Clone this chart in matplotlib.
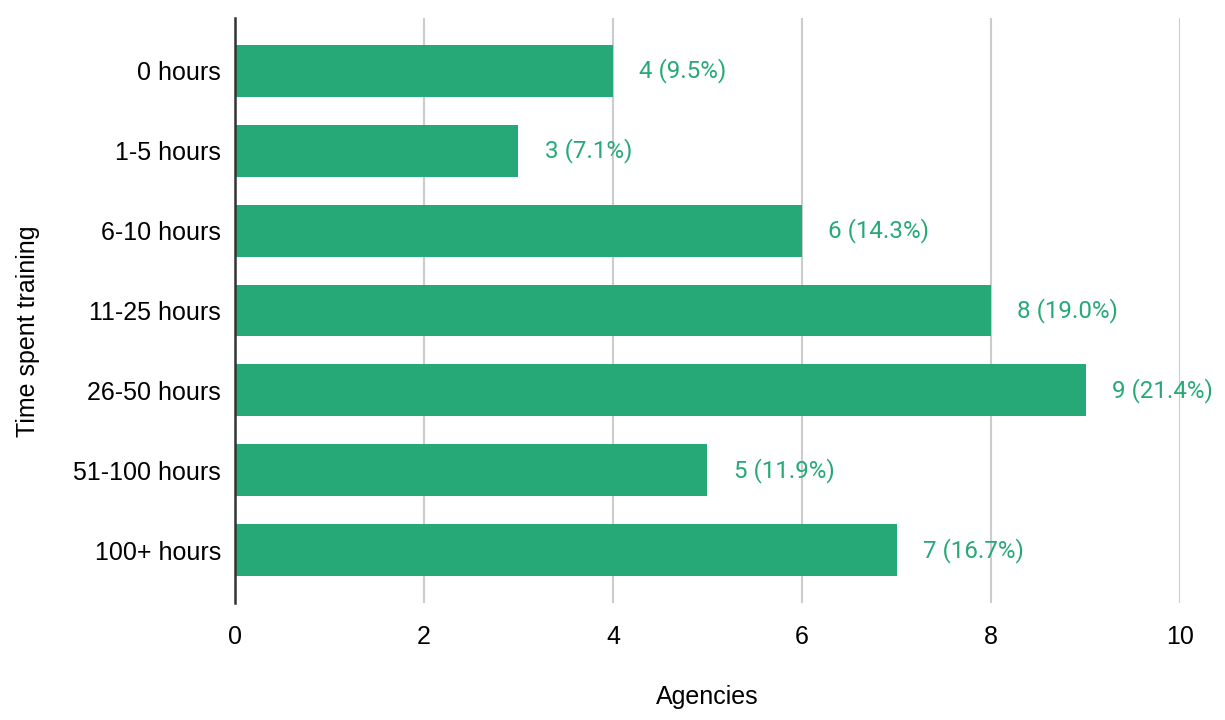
import matplotlib.pyplot as plt

categories = ["0 hours", "1-5 hours", "6-10 hours", "11-25 hours",
              "26-50 hours", "51-100 hours", "100+ hours"]
agencies = [4, 3, 6, 8, 9, 5, 7]
percents = [9.5, 7.1, 14.3, 19.0, 21.4, 11.9, 16.7]

green = "#26a977"

fig = plt.figure(figsize=(12.25, 7.2), dpi=100)
ax = fig.add_axes([0.1918, 0.1625, 0.7715, 0.8125])

y = list(range(len(categories)))
ax.barh(y, agencies, height=0.65, color=green, zorder=3)

for yi, v, p in zip(y, agencies, percents):
    ax.text(v + 0.28, yi, f"{v} ({p:.1f}%)", va="center", ha="left",
            color=green, fontsize=17.4, family="Roboto", zorder=4)

ax.set_xlim(0, 10)
ax.set_ylim(6.66, -0.66)
ax.set_yticks(y)
ax.set_yticklabels(categories)
ax.set_xticks([0, 2, 4, 6, 8, 10])

ax.grid(axis="x", color="#cccccc", linewidth=1.5, zorder=0)
for s in ["top", "right", "bottom"]:
    ax.spines[s].set_visible(False)
ax.spines["left"].set_color("#333333")
ax.spines["left"].set_linewidth(1.8)
ax.spines["left"].set_zorder(5)

ax.tick_params(length=0, labelsize=18)
ax.tick_params(axis="y", pad=10)
ax.tick_params(axis="x", pad=16)
for lab in ax.get_xticklabels() + ax.get_yticklabels():
    lab.set_family("Liberation Sans")

ax.set_xlabel("Agencies", fontsize=18, family="Liberation Sans")
ax.set_ylabel("Time spent training", fontsize=18, family="Liberation Sans")
ax.xaxis.set_label_coords(0.5, -0.14)
ax.yaxis.set_label_coords(-0.206, 0.465)

fig.savefig("out.png", dpi=100)
